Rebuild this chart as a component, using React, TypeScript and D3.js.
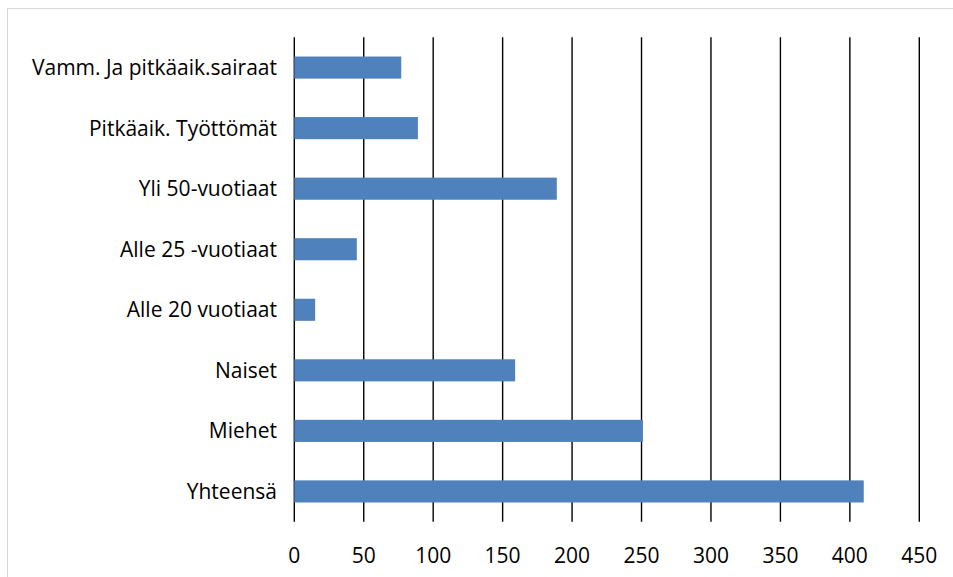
import React, { useEffect, useRef } from "react";
import * as d3 from "d3";

// categories top to bottom, as in the picture
const CATEGORIES = [
  "Vamm. Ja pitkäaik.sairaat",
  "Pitkäaik. Työttömät",
  "Yli 50-vuotiaat",
  "Alle 25 -vuotiaat",
  "Alle 20 vuotiaat",
  "Naiset",
  "Miehet",
  "Yhteensä",
];
const VALUES = [77, 89, 189, 45, 15, 159, 251, 410];
const X_TICKS = [0, 50, 100, 150, 200, 250, 300, 350, 400, 450];

const WIDTH = 953;
const HEIGHT = 577;
const PLOT = { left: 294.3, right: 919.3, top: 37.3, bottom: 521.7 };
const BAR_COLOR = "#4f81bd";
const FONT = "'Open Sans', 'Liberation Sans', sans-serif";

export default function App() {
  const ref = useRef<SVGSVGElement>(null);

  useEffect(() => {
    const svg = d3.select(ref.current);
    svg.selectAll("*").remove();

    const x = d3.scaleLinear().domain([0, 450]).range([PLOT.left, PLOT.right]);
    const y = d3
      .scaleBand()
      .domain(CATEGORIES)
      .range([PLOT.top, PLOT.bottom])
      .paddingInner(0.635)
      .paddingOuter(0.3175);

    // chart border
    svg
      .append("rect")
      .attr("x", 7.5)
      .attr("y", 8.5)
      .attr("width", WIDTH + 20)
      .attr("height", HEIGHT + 20)
      .attr("fill", "white")
      .attr("stroke", "#d9d9d9")
      .attr("stroke-width", 1);

    // vertical gridlines
    svg
      .append("g")
      .selectAll("line")
      .data(X_TICKS)
      .join("line")
      .attr("x1", (d) => x(d))
      .attr("x2", (d) => x(d))
      .attr("y1", PLOT.top)
      .attr("y2", PLOT.bottom)
      .attr("stroke", "#000")
      .attr("stroke-width", 1.4);

    // bars
    svg
      .append("g")
      .selectAll("rect")
      .data(VALUES)
      .join("rect")
      .attr("x", x(0))
      .attr("y", (d, i) => y(CATEGORIES[i])!)
      .attr("width", (d) => x(d) - x(0))
      .attr("height", y.bandwidth())
      .attr("fill", BAR_COLOR);

    // category labels
    svg
      .append("g")
      .selectAll("text")
      .data(CATEGORIES)
      .join("text")
      .attr("x", 277)
      .attr("y", (d) => y(d)! + y.bandwidth() / 2)
      .attr("dy", "0.36em")
      .attr("text-anchor", "end")
      .attr("font-family", FONT)
      .attr("font-size", 21)
      .attr("fill", "#000")
      .text((d) => d);

    // x tick labels
    svg
      .append("g")
      .selectAll("text")
      .data(X_TICKS)
      .join("text")
      .attr("x", (d) => x(d))
      .attr("y", 555)
      .attr("dy", "0.36em")
      .attr("text-anchor", "middle")
      .attr("font-family", FONT)
      .attr("font-size", 21)
      .attr("fill", "#000")
      .text((d) => d);
  }, []);

  return (
    <svg
      ref={ref}
      width={WIDTH}
      height={HEIGHT}
      style={{ position: "absolute", left: 0, top: 0, background: "white" }}
    />
  );
}
